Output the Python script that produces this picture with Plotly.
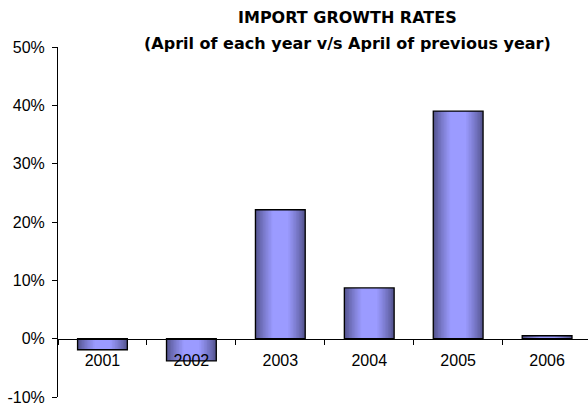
import plotly.graph_objects as go

# Data
years = ["2001", "2002", "2003", "2004", "2005", "2006"]
growth = [-1.9, -3.8, 22.1, 8.7, 39.0, 0.5]

y_ticks = [-10, 0, 10, 20, 30, 40, 50]

TITLE_LINES = [
    "IMPORT GROWTH RATES",
    "(April of each year v/s April of previous year)",
]

DARK = (82, 82, 140)
LIGHT = (155, 155, 255)
N_LAYERS = 12
BAR_W = 0.56
INNER_W = 0.18

W, H = 588, 405
PLOT_L, PLOT_T, PLOT_B = 58, 47, 397
ZERO_PX = 339


def _mix(t):
    r, g, b = (round(d + (l - d) * t) for d, l in zip(DARK, LIGHT))
    return f"rgb({r},{g},{b})"


def _paper_y(px):
    return (PLOT_B - px) / (PLOT_B - PLOT_T)


fig = go.Figure()

# fake a horizontal gradient by stacking narrower, lighter bars on top of each other
for k in range(N_LAYERS):
    t = k / (N_LAYERS - 1)
    fig.add_trace(go.Bar(
        x=years,
        y=growth,
        width=BAR_W - (BAR_W - INNER_W) * t,
        marker=dict(color=_mix(t ** 0.8), line=dict(width=0)),
        hoverinfo="skip",
        showlegend=False,
    ))

# outline on top
fig.add_trace(go.Bar(
    x=years,
    y=growth,
    width=BAR_W,
    marker=dict(color="rgba(0,0,0,0)", line=dict(color="black", width=1.3)),
    hovertemplate="%{x}: %{y:.1f}%<extra></extra>",
    showlegend=False,
))

axis_style = dict(
    automargin=False,
    showline=True,
    linecolor="black",
    linewidth=1,
    ticks="outside",
    ticklen=5,
    tickcolor="black",
    showgrid=False,
    zeroline=False,
    ticklabeloverflow="allow",
)

title_x = (347 - PLOT_L) / (W - PLOT_L)
annotations = [
    dict(
        text=f"<b>{line}</b>",
        xref="paper", yref="paper",
        x=title_x, y=_paper_y(py),
        xanchor="center", yanchor="middle",
        showarrow=False,
        font=dict(family="DejaVu Sans, sans-serif", size=16, color="black"),
    )
    for line, py in zip(TITLE_LINES, [18, 43])
]

fig.update_layout(
    width=W,
    height=H,
    barmode="overlay",
    paper_bgcolor="white",
    plot_bgcolor="white",
    margin=dict(l=PLOT_L, r=0, t=PLOT_T, b=H - PLOT_B, autoexpand=False),
    font=dict(family="Liberation Sans, Arial, sans-serif", size=16, color="black"),
    xaxis=dict(
        type="category",
        range=[-0.5, 5.46],
        anchor="free",
        position=_paper_y(ZERO_PX),
        tickson="boundaries",
        ticklabelstandoff=7,
        **axis_style,
    ),
    yaxis=dict(
        range=[-10, 50],
        tickvals=y_ticks,
        ticktext=[f"{v}%" for v in y_ticks],
        ticklabelstandoff=4,
        **axis_style,
    ),
    annotations=annotations,
)

# page body has an 8px default margin; drop it so the figure sits at 0,0
fig.write_html(
    "out.html",
    config={"displayModeBar": False},
    post_script="document.body.style.margin='0';",
)
